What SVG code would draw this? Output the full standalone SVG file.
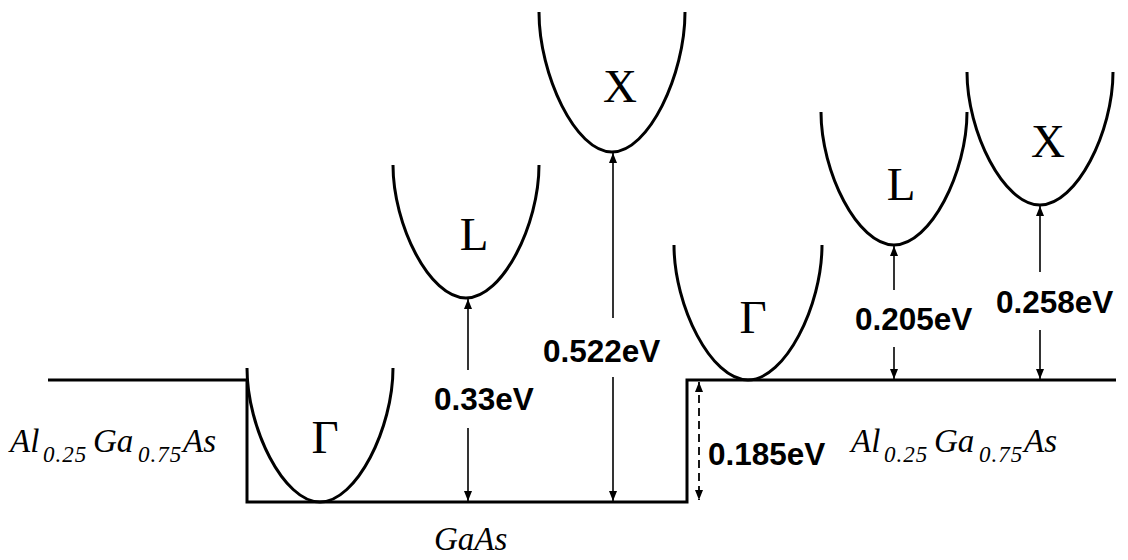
<svg xmlns="http://www.w3.org/2000/svg" width="1128" height="560" viewBox="0 0 1128 560">
  <defs>
    <style>
      .band { fill: none; stroke: #000; stroke-width: 3; }
      .para { fill: none; stroke: #000; stroke-width: 3; }
      .arr { fill: none; stroke: #000; stroke-width: 1.6; marker-end: url(#ah); }
      .arr2 { fill: none; stroke: #000; stroke-width: 1.6; marker-start: url(#ah); }
      .dash { fill: none; stroke: #000; stroke-width: 1.8; stroke-dasharray: 8 5; marker-start: url(#ah); marker-end: url(#ah); }
      .val { font-family: "Liberation Sans", Arial, sans-serif; font-weight: bold; font-size: 31.5px; fill: #000; }
      .sym { font-family: "Liberation Serif", "Times New Roman", serif; font-size: 47px; fill: #000; text-anchor: middle; }
      .it { font-family: "Liberation Serif", "Times New Roman", serif; font-style: italic; font-size: 33px; fill: #000; }
      .sub { font-size: 23px; letter-spacing: 1px; }
    </style>
    <marker id="ah" viewBox="0 0 10 8" refX="10" refY="4" markerWidth="10" markerHeight="8" markerUnits="userSpaceOnUse" orient="auto-start-reverse">
      <path d="M0,0 L10,4 L0,8 z" fill="#000"/>
    </marker>
  </defs>

  <g id="band-edge">
    <path class="band" d="M48,380 H247 V502 H687 V380 H1116"/>
  </g>

  <g id="gaas-gamma">
    <path class="para" d="M247,368 C247,428 283.5,502 320,502 C356.5,502 393,428 393,368"/>
    <text class="sym" x="325" y="453">Γ</text>
  </g>
  <g id="gaas-L">
    <path class="para" d="M393,165 C393,225 429.5,298 466,298 C502.5,298 539,225 539,165"/>
    <text class="sym" x="474" y="250">L</text>
  </g>
  <g id="gaas-X">
    <path class="para" d="M539,12 C539,75 575.5,152 612,152 C648.5,152 685,75 685,12"/>
    <text class="sym" x="620" y="102">X</text>
  </g>
  <g id="algaas-gamma">
    <path class="para" d="M674,245 C674,306 711,380 748,380 C785,380 822,306 822,245"/>
    <text class="sym" x="753" y="333">Γ</text>
  </g>
  <g id="algaas-L">
    <path class="para" d="M821,112 C821,172 857.5,245 894,245 C930.5,245 967,172 967,112"/>
    <text class="sym" x="901" y="200">L</text>
  </g>
  <g id="algaas-X">
    <path class="para" d="M967,72 C967,132 1003.5,205 1040,205 C1076.5,205 1113,132 1113,72"/>
    <text class="sym" x="1048" y="157">X</text>
  </g>

  <g id="connectors">
    <line class="arr2" x1="468" y1="299" x2="468" y2="370"/>
    <line class="arr" x1="468" y1="428" x2="468" y2="501"/>
    <line class="arr2" x1="613" y1="153" x2="613" y2="318"/>
    <line class="arr" x1="613" y1="377" x2="613" y2="501"/>
    <line class="arr2" x1="894" y1="246" x2="894" y2="290"/>
    <line class="arr" x1="894" y1="347" x2="894" y2="379"/>
    <line class="arr2" x1="1040" y1="206" x2="1040" y2="272"/>
    <line class="arr" x1="1040" y1="330" x2="1040" y2="379"/>
    <line class="dash" x1="699" y1="382" x2="699" y2="500"/>
  </g>

  <g id="values">
    <text class="val" x="434" y="410">0.33eV</text>
    <text class="val" x="543" y="362">0.522eV</text>
    <text class="val" x="708" y="465">0.185eV</text>
    <text class="val" x="855" y="330">0.205eV</text>
    <text class="val" x="996" y="313">0.258eV</text>
  </g>

  <g id="label-left">
    <text class="it" y="452"><tspan x="10">Al</tspan><tspan class="sub" x="43" dy="10">0.25</tspan><tspan x="93" dy="-10">Ga</tspan><tspan class="sub" x="138" dy="10">0.75</tspan><tspan x="183" dy="-10">As</tspan></text>
  </g>
  <g id="label-right">
    <text class="it" y="452"><tspan x="851">Al</tspan><tspan class="sub" x="884" dy="10">0.25</tspan><tspan x="934" dy="-10">Ga</tspan><tspan class="sub" x="979" dy="10">0.75</tspan><tspan x="1024" dy="-10">As</tspan></text>
  </g>
  <g id="label-gaas">
    <text class="it" x="434" y="550">GaAs</text>
  </g>
</svg>
